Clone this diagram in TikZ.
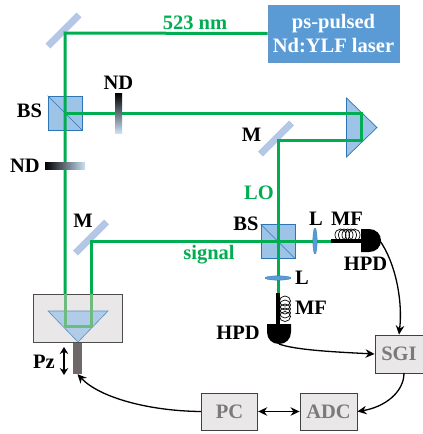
\documentclass[tikz,border=0pt]{standalone}
\usepackage{fontspec}
\setmainfont{Liberation Serif}
\usetikzlibrary{arrows.meta}
\definecolor{beamgreen}{HTML}{00AD50}
\definecolor{beamfade}{HTML}{6DBB7F}
\definecolor{cubeblue}{HTML}{9DC3E6}
\definecolor{edgeblue}{HTML}{2E75B6}
\definecolor{laserblue}{HTML}{5B9BD5}
\definecolor{mirrorblue}{HTML}{B4C7E7}
\definecolor{paneled}{HTML}{E9E7E8}
\definecolor{pzgray}{HTML}{6F6868}
\definecolor{ndlight}{HTML}{C9E0F5}
\definecolor{ndmid}{HTML}{7F8895}
\tikzset{
  lab/.style={font=\fontsize{20.5}{22}\selectfont\bfseries,inner sep=0pt},
  glab/.style={lab,text=beamgreen},
  beam/.style={draw=beamgreen,line width=3pt,line join=miter},
  fadebeam/.style={draw=beamfade,line width=3pt,line join=miter},
  fibre/.style={draw=black,line width=3.2pt},
  mirror/.style={fill=mirrorblue,minimum width=44pt,minimum height=7pt,inner sep=0pt,rotate=45},
  cube/.style={fill=cubeblue,draw=edgeblue,line width=.7pt,minimum size=34pt,inner sep=0pt},
  instr/.style={fill=paneled,draw=black!75,line width=.9pt,inner sep=0pt,text=black!52,font=\fontsize{20.5}{22}\selectfont\bfseries},
  lens/.style={fill=laserblue,draw=edgeblue,line width=.3pt},
  sig/.style={draw=black,line width=1.3pt,-{Stealth[length=9pt,width=8.5pt]}},
  coil/.style={draw=black,line width=.7pt},
  det/.style={fill=black},
}
\begin{document}
\begin{tikzpicture}[x=1pt,y=-1pt]
\useasboundingbox (0,0) rectangle (423,434);
% beam way-points
\coordinate (c1) at (65,33);
\coordinate (c2) at (65,294);
\coordinate (c3) at (65,326.5);
\coordinate (c4) at (91,326.5);
\coordinate (c5) at (91,294);
\coordinate (c6) at (91,241);
\coordinate (c7) at (331,241);
\coordinate (c8) at (361,113);
\coordinate (c9) at (361,140);
\coordinate (c10) at (278,140);
\coordinate (c11) at (278,293);
\coordinate (c12) at (65,113);
% laser
\node[fill=laserblue,draw=edgeblue!75,line width=.8pt,minimum width=131pt,minimum height=57pt,inner sep=0pt,text=white,align=center,font=\fontsize{20.5}{24}\selectfont\bfseries] (laser) at (333.5,33.5) {ps-pulsed\\Nd:YLF laser};
% mirrors
\node[mirror] (m1) at (63.5,30.5) {};
\node[mirror] (m2) at (276,138.5) {};
\node[mirror] (m3) at (91,237.5) {};
% retro prism
\path[fill=cubeblue,draw=edgeblue,line width=.7pt] (346.5,98) -- (377,127.5) -- (346.5,157) -- cycle;
% cubes
\node[cube] (bs1) at (65,113) {};
\node[cube] (bs2) at (278,241.5) {};
\draw[edgeblue,line width=.7pt] (bs1.north west) -- (bs1.south east);
\draw[edgeblue,line width=.7pt] (bs2.north west) -- (bs2.south east);
% stage
\node[fill=paneled,draw=black!70,line width=.9pt,minimum width=89pt,minimum height=47.5pt,inner sep=0pt] (stage) at (77.5,318.25) {};
\path[fill=cubeblue!75!paneled,draw=edgeblue!80,line width=.6pt] (48,311) -- (108,311) -- (78,342) -- cycle;
% beams
\draw[beam] (laser.west) -- (c1) -- (c2);
\draw[beam] (c12) -- (c8) -- (c9) -- (c10) -- (c11);
\draw[beam] (c5) -- (c6) -- (c7);
\draw[fadebeam] (c2) -- (c3) -- (c4) -- (c5);
% ND filters
\node[minimum width=7pt,minimum height=40pt,inner sep=0pt,top color=black,middle color=ndmid,bottom color=ndlight] (nd1) at (118.5,113) {};
\node[minimum width=40pt,minimum height=7pt,inner sep=0pt,left color=black,middle color=ndmid,right color=ndlight] (nd2) at (65,166) {};
% lenses
\path[lens] (315,241) ellipse [x radius=2.2,y radius=13];
\path[lens] (278,278) ellipse [x radius=13,y radius=2.2];
% fibres
\draw[fibre] (c7) -- (362,241);
\draw[fibre] (c11) -- (278,325);
\foreach \x in {340.5,344,347.5,351,354.5}
  \draw[coil] (\x,235) ellipse [x radius=5.5,y radius=6];
\foreach \y in {301,305,309,313,316.5}
  \draw[coil] (285,\y) ellipse [x radius=5.5,y radius=5];
% detectors
\path[det] (361,229) -- (369,229) .. controls (376,229) and (381,234) .. (381,240.5) .. controls (381,247) and (376,252) .. (369,252) -- (361,252) -- cycle;
\path[det] (267,324) -- (291,324) -- (291,332) .. controls (291,339) and (286,344) .. (279,344) .. controls (272,344) and (267,339) .. (267,332) -- cycle;
\coordinate (hpd1) at (380,241);
\coordinate (hpd2) at (279,344);
% instruments
\node[instr,minimum width=48pt,minimum height=38pt] (sgi) at (399,354) {SGI};
\node[instr,minimum width=57pt,minimum height=37pt] (adc) at (328.5,411.5) {ADC};
\node[instr,minimum width=56.5pt,minimum height=37pt] (pc) at (229.5,411.5) {PC};
% piezo
\node[fill=pzgray,minimum width=9pt,minimum height=31pt,inner sep=0pt] (pz) at (77.5,358.5) {};
\coordinate (pa) at (64,347);
\coordinate (pb) at (64,375);
\draw[draw=black,line width=1.9pt,{Stealth[length=7pt,width=8.5pt]}-{Stealth[length=7pt,width=8.5pt]}] (pa) -- (pb);
% signal connectors
\draw[sig] (hpd1) .. controls (395,262) and (403,300) .. (sgi.north);
\draw[sig] (hpd2) .. controls (295,350) and (335,352) .. (sgi.west);
\draw[sig] (404,373) .. controls (404,392) and (385,407) .. (adc.east);
\draw[sig,{Stealth[length=9pt,width=8.5pt]}-{Stealth[length=9pt,width=8.5pt]}] (pc.east) -- (adc.west);
\draw[sig] (pc.west) .. controls (150,411) and (100,398) .. (pz.south);
% labels
\node[glab] (t1) at (195,23) {523 nm};
\node[glab] (t2) at (259,193) {LO};
\node[glab] (t3) at (209,255) {signal};
\node[lab] (t4) at (118.5,83) {ND};
\node[lab] (t5) at (29.5,111) {BS};
\node[lab] (t6) at (25,166) {ND};
\node[lab] (t7) at (251.5,134.5) {M};
\node[lab] (t8) at (83,221) {M};
\node[lab] (t9) at (246,224) {BS};
\node[lab] (t10) at (316,219) {L};
\node[lab] (t11) at (347,219) {MF};
\node[lab] (t12) at (365.5,264) {HPD};
\node[lab] (t13) at (302,278) {L};
\node[lab] (t14) at (311,308) {MF};
\node[lab] (t15) at (238,333) {HPD};
\node[lab] (t16) at (44,362) {Pz};
\end{tikzpicture}
\end{document}
